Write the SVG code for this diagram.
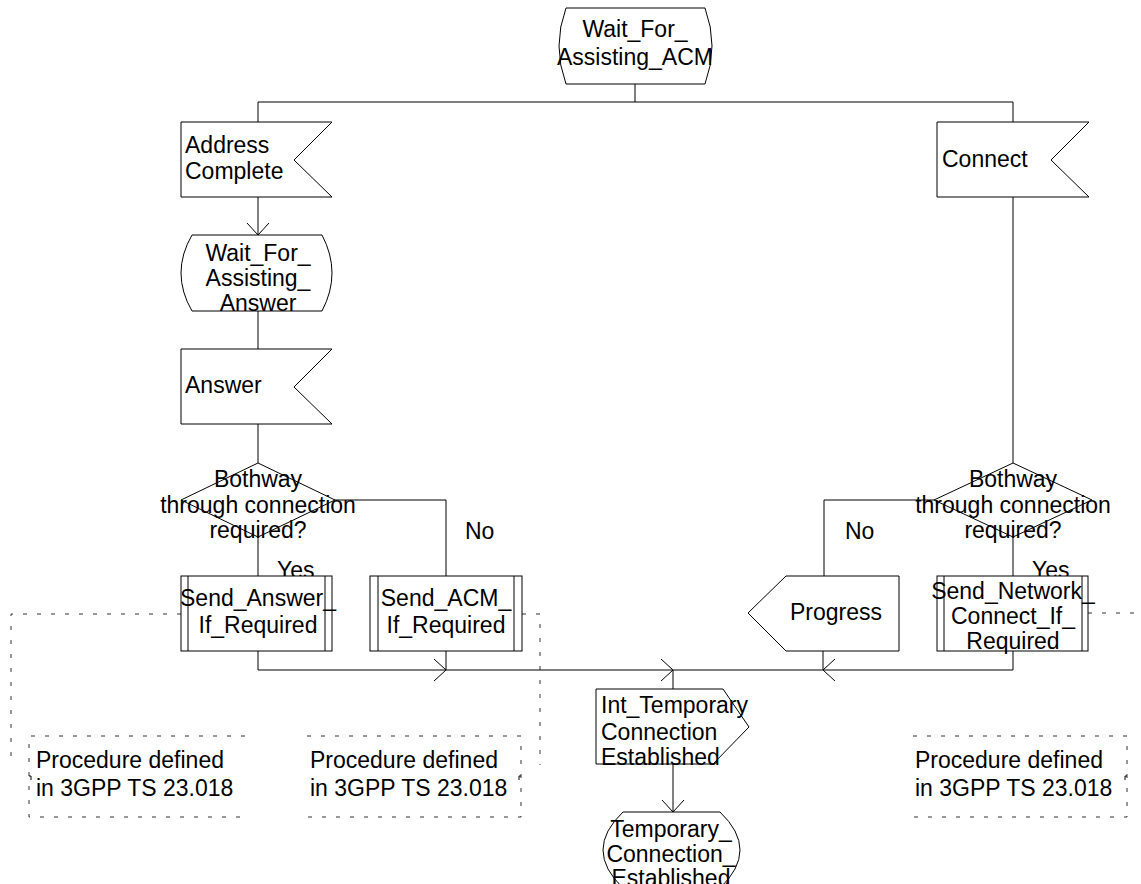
<svg xmlns="http://www.w3.org/2000/svg" width="1141" height="884" viewBox="0 0 1141 884">
  <style>
    .shape { fill: #fff; stroke: #000; stroke-width: 1; }
    .bar { fill: none; stroke: #000; stroke-width: 1; }
    .flow { fill: none; stroke: #000; stroke-width: 1; }
    .dash { fill: none; stroke: #333; stroke-width: 1; stroke-dasharray: 4 10; }
    text { font-family: "Liberation Sans", Arial, sans-serif; font-size: 23px; fill: #000; }
    .c { text-anchor: middle; }
  </style>
  <defs>
    <marker id="open" viewBox="-15 -15 30 30" refX="0" refY="0" markerWidth="30" markerHeight="30" markerUnits="userSpaceOnUse" orient="auto" overflow="visible">
      <path d="M-12,-11 L0,0 L-12,11" fill="none" stroke="#000" stroke-width="1"/>
    </marker>
  </defs>

  <!-- comment brackets (dashed) -->
  <g id="comments">
    <path class="dash" d="M181,614 H11 V765"/>
    <path class="dash" d="M522,614 H540 V765"/>
    <path class="dash" d="M1088,613 H1141"/>
    <path class="dash" d="M245,736 H29 V817 H245"/>
    <path class="dash" d="M307,736 H521 V817 H307"/>
    <path class="dash" d="M913,736 H1127 V817 H913"/>
    <path class="bar" stroke="#333" d="M29,776 H31 V780 M521,776 H519 V780 M1127,776 H1125 V780"/>
  </g>

  <!-- connectors -->
  <g id="connectors">
    <path class="flow" d="M635,84 V102"/>
    <path class="flow" d="M258,102 H1013"/>
    <path class="flow" d="M258,102 V122"/>
    <path class="flow" d="M1013,102 V122"/>
    <path class="flow" d="M258,197 V235" marker-end="url(#open)"/>
    <path class="flow" d="M258,311 V349"/>
    <path class="flow" d="M258,424 V463"/>
    <path class="flow" d="M1013,197 V463"/>
    <path class="flow" d="M258,537 V576"/>
    <path class="flow" d="M332,500 H446 V576"/>
    <path class="flow" d="M1013,537 V576"/>
    <path class="flow" d="M934,500 H824 V576"/>
    <path class="flow" d="M258,651 V670 H446" marker-end="url(#open)"/>
    <path class="flow" d="M446,651 V670 H673" marker-end="url(#open)"/>
    <path class="flow" d="M1013,651 V670 H823" marker-end="url(#open)"/>
    <path class="flow" d="M823,651 V670 H673"/>
    <path class="flow" d="M673,670 V689"/>
    <path class="flow" d="M673,764 V812" marker-end="url(#open)"/>
  </g>

  <!-- states -->
  <g id="state_wait_acm">
    <path class="shape" d="M566,8 H705 Q719,46 705,84 H566 Q552,46 566,8 Z"/>
    <text class="c" x="635" y="37">Wait_For_</text>
    <text class="c" x="635" y="65">Assisting_ACM</text>
  </g>

  <g id="input_address_complete">
    <path class="shape" d="M181,122 H332 L294,160 L332,197 H181 Z"/>
    <text x="185" y="153">Address</text>
    <text x="185" y="179">Complete</text>
  </g>

  <g id="input_connect">
    <path class="shape" d="M937,122 H1089 L1051,160 L1089,197 H937 Z"/>
    <text x="942" y="167">Connect</text>
  </g>

  <g id="state_wait_answer">
    <path class="shape" d="M192,235 H322 Q342,273 322,311 H192 Q170,273 192,235 Z"/>
    <text class="c" x="258" y="261">Wait_For_</text>
    <text class="c" x="258" y="286">Assisting_</text>
    <text class="c" x="258" y="311">Answer</text>
  </g>

  <g id="input_answer">
    <path class="shape" d="M181,349 H332 L294,387 L332,424 H181 Z"/>
    <text x="185" y="393">Answer</text>
  </g>

  <g id="decision_left">
    <path class="shape" d="M258,463 L335,500 L258,537 L181,500 Z"/>
    <text class="c" x="258" y="487">Bothway</text>
    <text class="c" x="258" y="513">through connection</text>
    <text class="c" x="258" y="538">required?</text>
    <text x="277" y="578">Yes</text>
    <text x="465" y="539">No</text>
  </g>

  <g id="decision_right">
    <path class="shape" d="M1013,463 L1092,500 L1013,537 L934,500 Z"/>
    <text class="c" x="1013" y="487">Bothway</text>
    <text class="c" x="1013" y="513">through connection</text>
    <text class="c" x="1013" y="538">required?</text>
    <text x="1032" y="578">Yes</text>
    <text x="845" y="539">No</text>
  </g>

  <g id="proc_send_answer">
    <rect class="shape" x="181" y="576" width="151" height="75"/>
    <path class="bar" d="M188,576 V651 M325,576 V651"/>
    <text class="c" x="258" y="606">Send_Answer_</text>
    <text class="c" x="258" y="633">If_Required</text>
  </g>

  <g id="proc_send_acm">
    <rect class="shape" x="370" y="576" width="152" height="75"/>
    <path class="bar" d="M378,576 V651 M514,576 V651"/>
    <text class="c" x="446" y="606">Send_ACM_</text>
    <text class="c" x="446" y="633">If_Required</text>
  </g>

  <g id="output_progress">
    <path class="shape" d="M786,576 H899 V651 H786 L748,613 Z"/>
    <text x="790" y="620">Progress</text>
  </g>

  <g id="proc_send_network_connect">
    <rect class="shape" x="937" y="576" width="151" height="75"/>
    <path class="bar" d="M944,576 V651 M1082,576 V651"/>
    <text class="c" x="1013" y="599">Send_Network_</text>
    <text class="c" x="1013" y="624">Connect_If_</text>
    <text class="c" x="1013" y="649">Required</text>
  </g>

  <g id="output_int_temp_conn">
    <path class="shape" d="M596,689 H723 L749,727 L713,764 H596 Z"/>
    <text x="601" y="713">Int_Temporary</text>
    <text x="601" y="740">Connection</text>
    <text x="601" y="765">Established</text>
  </g>

  <g id="state_temp_conn">
    <path class="shape" d="M623,812 H720 Q760,850 720,888 H623 Q583,850 623,812 Z"/>
    <text class="c" x="671" y="837">Temporary_</text>
    <text class="c" x="671" y="862">Connection_</text>
    <text class="c" x="671" y="886">Established</text>
  </g>

  <g id="note_1">
    <text x="36" y="768">Procedure defined</text>
    <text x="36" y="796">in 3GPP TS 23.018</text>
  </g>
  <g id="note_2">
    <text x="310" y="768">Procedure defined</text>
    <text x="310" y="796">in 3GPP TS 23.018</text>
  </g>
  <g id="note_3">
    <text x="915" y="768">Procedure defined</text>
    <text x="915" y="796">in 3GPP TS 23.018</text>
  </g>
</svg>
